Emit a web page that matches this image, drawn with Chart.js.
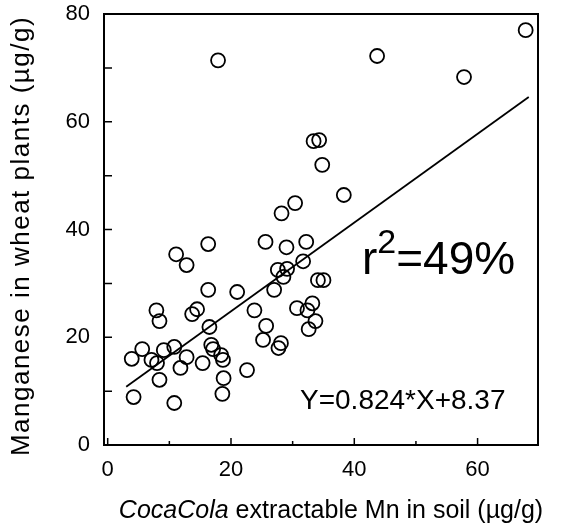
<!DOCTYPE html>
<html>
<head>
<meta charset="utf-8">
<script src="https://cdn.jsdelivr.net/npm/chart.js@4.4.0/dist/chart.umd.min.js"></script>
<style>
  html, body { margin: 0; padding: 0; background: #fff; }
  #wrap { width: 566px; height: 531px; }
</style>
</head>
<body>
<div id="wrap"><canvas id="mnChart" width="566" height="531"></canvas></div>
<script>
// soil Mn (x) vs plant Mn (y)
const soilMn = [17.9, 43.7, 67.8, 57.8, 33.4, 34.3, 34.8, 38.3, 30.4, 28.2,
    25.6, 29.0, 32.2, 31.7, 27.6, 29.1, 28.5, 27.0, 16.3, 11.1,
    12.8, 16.3, 21.0, 23.8, 25.7, 25.2, 27.7, 28.1, 30.7, 32.4,
    33.2, 33.7, 32.6, 34.1, 35.0, 3.9, 5.6, 7.1, 8.0, 7.9,
    8.4, 9.1, 10.8, 12.8, 11.8, 8.4, 4.2, 10.8, 13.7, 14.5,
    16.5, 15.4, 16.8, 17.1, 18.4, 18.7, 18.8, 18.6, 22.6];
const plantMn = [71.4, 72.2, 77.0, 68.3, 56.4, 56.6, 52.0, 46.4, 44.9, 43.0,
    37.7, 36.7, 37.7, 34.1, 32.5, 32.7, 31.2, 28.8, 37.3, 35.4,
    33.4, 28.8, 28.4, 25.0, 22.1, 19.5, 18.0, 18.9, 25.4, 25.0,
    26.3, 23.0, 21.5, 30.6, 30.6, 16.0, 17.8, 15.8, 15.2, 25.0,
    23.0, 17.6, 18.2, 16.3, 14.3, 12.1, 8.9, 7.8, 24.3, 25.2,
    21.9, 15.2, 18.6, 17.8, 16.7, 15.8, 12.4, 9.5, 13.9];

// fitted line end points
const fitX = [3.0, 68.3];
const fitY = [10.8, 64.6];

// axis ticks
const xTickLabels = [0, 20, 40, 60];
const yTickLabels = [0, 20, 40, 60, 80];
const xMinorTicks = [10, 30, 50];
const yMinorTicks = [10, 30, 50, 70];

const FONT = '"Liberation Sans", Arial, sans-serif';

// frame, inward ticks and all the extra text
const decorPlugin = {
    id: 'decor',
    afterDraw(chart) {
        const ctx = chart.ctx;
        const area = chart.chartArea;
        const xs = chart.scales.x;
        const ys = chart.scales.y;
        ctx.save();
        ctx.strokeStyle = '#000';
        ctx.lineWidth = 2;
        ctx.strokeRect(area.left, area.top, area.right - area.left, area.bottom - area.top);

        ctx.lineWidth = 1.5;
        ctx.beginPath();
        xTickLabels.forEach(v => {
            const px = xs.getPixelForValue(v);
            ctx.moveTo(px, area.bottom);
            ctx.lineTo(px, area.bottom - 7);
        });
        xMinorTicks.forEach(v => {
            const px = xs.getPixelForValue(v);
            ctx.moveTo(px, area.bottom);
            ctx.lineTo(px, area.bottom - 4);
        });
        yTickLabels.concat(yMinorTicks).forEach(v => {
            const py = ys.getPixelForValue(v);
            ctx.moveTo(area.left, py);
            ctx.lineTo(area.left + 8, py);
        });
        ctx.stroke();

        ctx.fillStyle = '#000';
        ctx.textBaseline = 'middle';

        // x axis title, first word in italics
        const italicPart = 'CocaCola';
        const plainPart = ' extractable Mn in soil (µg/g)';
        ctx.font = 'italic 25px ' + FONT;
        const w1 = ctx.measureText(italicPart).width;
        ctx.font = '25px ' + FONT;
        const w2 = ctx.measureText(plainPart).width;
        const tx = 331 - (w1 + w2) / 2;
        ctx.textAlign = 'left';
        ctx.font = 'italic 25px ' + FONT;
        ctx.fillText(italicPart, tx, 511);
        ctx.font = '25px ' + FONT;
        ctx.fillText(plainPart, tx + w1, 511);

        // y axis title
        ctx.save();
        ctx.translate(22, 236);
        ctx.rotate(-Math.PI / 2);
        ctx.textAlign = 'center';
        ctx.font = '26px ' + FONT;
        ctx.letterSpacing = '1.5px';
        ctx.fillText('Manganese in wheat plants (µg/g)', 0, 0);
        ctx.restore();

        // r squared
        ctx.textBaseline = 'alphabetic';
        ctx.textAlign = 'left';
        let rx = 362;
        ctx.font = '46px ' + FONT;
        ctx.fillText('r', rx, 274);
        rx += ctx.measureText('r').width;
        ctx.font = '34px ' + FONT;
        ctx.fillText('2', rx, 253);
        rx += ctx.measureText('2').width;
        ctx.font = '46px ' + FONT;
        ctx.fillText('=49%', rx, 274);

        // equation
        ctx.font = '28px ' + FONT;
        ctx.fillText('Y=0.824*X+8.37', 300, 409);
        ctx.restore();
    }
};

document.addEventListener('DOMContentLoaded', () => {
    const ctx = document.getElementById('mnChart').getContext('2d');

    const points = soilMn.map((x, i) => ({ x: x, y: plantMn[i] }));
    const fitLine = fitX.map((x, i) => ({ x: x, y: fitY[i] }));

    new Chart(ctx, {
        type: 'scatter',
        data: {
            datasets: [{
                label: 'samples',
                data: points,
                pointStyle: 'circle',
                pointRadius: 7,
                pointBorderWidth: 1.8,
                borderColor: '#000',
                backgroundColor: 'rgba(0,0,0,0)'
            }, {
                label: 'fit',
                type: 'line',
                data: fitLine,
                borderColor: '#000',
                borderWidth: 1.8,
                pointRadius: 0,
                fill: false
            }]
        },
        options: {
            responsive: false,
            animation: false,
            devicePixelRatio: 1,
            layout: { padding: { left: 0, top: 14, right: 28, bottom: 0 } },
            plugins: {
                legend: { display: false },
                tooltip: { enabled: false }
            },
            scales: {
                x: {
                    type: 'linear',
                    min: -0.6,
                    max: 69.8,
                    afterFit: s => { s.height = 86; s.paddingLeft = 0; s.paddingRight = 0; },
                    afterBuildTicks: s => { s.ticks = xTickLabels.map(v => ({ value: v })); },
                    grid: { display: false, drawTicks: false },
                    border: { display: false },
                    ticks: {
                        color: '#000',
                        padding: 12,
                        maxRotation: 0,
                        font: { family: FONT, size: 22 }
                    }
                },
                y: {
                    type: 'linear',
                    min: 0,
                    max: 80,
                    afterFit: s => { s.width = 104; s.paddingTop = 0; s.paddingBottom = 0; },
                    afterBuildTicks: s => { s.ticks = yTickLabels.map(v => ({ value: v })); },
                    grid: { display: false, drawTicks: false },
                    border: { display: false },
                    ticks: {
                        color: '#000',
                        padding: 14,
                        font: { family: FONT, size: 22 }
                    }
                }
            }
        },
        plugins: [decorPlugin]
    });
});
</script>
</body>
</html>
